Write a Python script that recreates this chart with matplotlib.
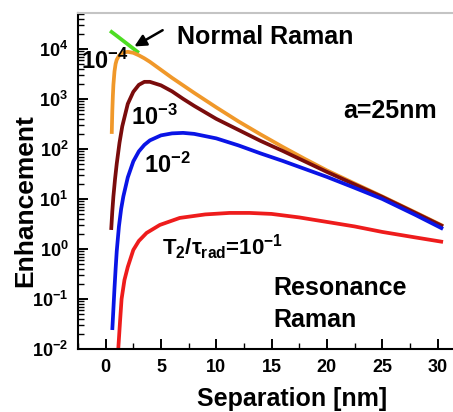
import numpy as np
import matplotlib
matplotlib.use("Agg")
import matplotlib.pyplot as plt
from matplotlib.ticker import MultipleLocator, LogLocator, NullFormatter

plt.rcParams['font.family'] = ['Liberation Sans', 'DejaVu Sans']
plt.rcParams['font.weight'] = 'bold'
plt.rcParams['mathtext.fontset'] = 'custom'
plt.rcParams['mathtext.rm'] = 'Liberation Sans:bold'
plt.rcParams['mathtext.it'] = 'Liberation Sans:bold'
plt.rcParams['mathtext.bf'] = 'Liberation Sans:bold'
plt.rcParams['mathtext.sf'] = 'Liberation Sans:bold'

# separation [nm] and log10(enhancement)
normal_d = [0.4, 1.0, 2.0, 3.0]
normal_log = [4.36, 4.26, 4.09, 3.92]

t4_d = [0.55, 0.6, 0.65, 0.7, 0.8, 0.9, 1.0, 1.2, 1.5, 2.0, 2.5, 3.0, 3.5, 4.0, 5.0, 6.0, 7.0, 8.0,
        10.0, 12.0, 14.0, 16.0, 18.0, 20.0, 22.3, 25.0, 28.0, 30.5]
t4_log = [2.30, 2.75, 3.05, 3.28, 3.55, 3.70, 3.78, 3.86, 3.92, 3.94, 3.92, 3.87, 3.81, 3.74, 3.58, 3.42, 3.27, 3.12,
          2.83, 2.55, 2.29, 2.04, 1.80, 1.57, 1.33, 1.05, 0.73, 0.46]

t3_d = [0.5, 0.6, 0.7, 0.85, 1.0, 1.25, 1.5, 2.0, 2.5, 3.0, 3.5, 4.0, 5.0, 6.0, 7.0, 8.0, 10.0,
        12.0, 14.0, 16.0, 18.0, 20.0, 22.3, 25.0, 28.0, 30.5]
t3_log = [0.38, 0.75, 1.05, 1.40, 1.70, 2.12, 2.45, 2.90, 3.14, 3.28, 3.34, 3.34, 3.27, 3.15, 3.00, 2.86, 2.60,
          2.38, 2.16, 1.96, 1.75, 1.54, 1.31, 1.04, 0.72, 0.45]

t2_d = [0.6, 0.7, 0.8, 0.9, 1.0, 1.2, 1.4, 1.6, 2.0, 2.5, 3.0, 3.5, 4.0, 5.0, 6.0, 7.0, 8.0, 10.0,
        12.0, 14.0, 16.0, 18.0, 20.0, 22.3, 25.0, 28.0, 30.5]
t2_log = [-1.62, -1.20, -0.78, -0.40, -0.05, 0.45, 0.80, 1.05, 1.43, 1.75, 1.95, 2.08, 2.17, 2.27, 2.31, 2.32, 2.30, 2.21,
          2.07, 1.91, 1.76, 1.60, 1.44, 1.24, 1.00, 0.68, 0.40]

t1_d = [1.05, 1.14, 1.3, 1.44, 1.7, 2.0, 2.5, 3.0, 3.7, 4.9, 6.7, 9.0, 11.2, 13.0, 15.0, 17.5, 20.0,
        22.5, 25.0, 28.0, 30.5]
t1_log = [-2.3, -2.0, -1.45, -1.0, -0.62, -0.36, -0.02, 0.16, 0.32, 0.48, 0.62, 0.69, 0.72, 0.72, 0.70, 0.63, 0.54,
          0.45, 0.34, 0.23, 0.14]

x_ticks = [0, 5, 10, 15, 20, 25, 30]

fig = plt.figure(figsize=(4.53, 4.12), dpi=100)
ax = fig.add_axes([78 / 453, 1 - 349 / 412, 1 - 78 / 453, (349 - 13) / 412])

lw = 2.7
ax.plot(normal_d, 10 ** np.array(normal_log), color='#4ddd22', lw=lw, solid_capstyle='butt')
ax.plot(t4_d, 10 ** np.array(t4_log), color='#f0982a', lw=lw, solid_capstyle='butt')
ax.plot(t3_d, 10 ** np.array(t3_log), color='#7a0c0c', lw=lw, solid_capstyle='butt')
ax.plot(t2_d, 10 ** np.array(t2_log), color='#0a14e6', lw=lw, solid_capstyle='butt')
ax.plot(t1_d, 10 ** np.array(t1_log), color='#ee1c1c', lw=lw, solid_capstyle='butt')

ax.set_yscale('log')
ax.set_xlim(-2.5, 31.4)
ax.set_ylim(1e-2, 5.2e4)
ax.set_xticks(x_ticks)
ax.xaxis.set_minor_locator(MultipleLocator(2.5))
ax.yaxis.set_minor_locator(LogLocator(base=10, subs=np.arange(2, 10)))
ax.yaxis.set_minor_formatter(NullFormatter())

ax.tick_params(which='major', direction='in', length=7, width=1.4, labelsize=13, pad=7)
ax.tick_params(which='minor', direction='in', length=4, width=1.0)
ax.tick_params(top=False, right=False)
for lab in ax.get_xticklabels() + ax.get_yticklabels():
    lab.set_fontweight('bold')

ax.spines['right'].set_visible(False)
ax.spines['top'].set_color('#c4c4c4')
ax.spines['top'].set_linewidth(1.5)
ax.spines['left'].set_linewidth(1.5)
ax.spines['bottom'].set_linewidth(1.5)

# arrow to the normal Raman line
ax.annotate('', xy=(2.38, 10 ** 4.02), xytext=(5.37, 10 ** 4.40),
            arrowprops=dict(arrowstyle='-|>,head_length=0.7,head_width=0.35', color='black', lw=1.8))

fig.text(177 / 453, 1 - 37 / 412, 'Normal Raman', fontsize=18, fontweight='bold', ha='left', va='center')
fig.text(343 / 453, 1 - 111 / 412, 'a=25nm', fontsize=18, fontweight='bold', ha='left', va='center')
fig.text(273 / 453, 1 - 288 / 412, 'Resonance', fontsize=18, fontweight='bold', ha='left', va='center')
fig.text(273 / 453, 1 - 320 / 412, 'Raman', fontsize=18, fontweight='bold', ha='left', va='center')

fig.text(81 / 453, 1 - 61 / 412, r'$10^{-4}$', fontsize=17, ha='left', va='center')
fig.text(131 / 453, 1 - 117 / 412, r'$10^{-3}$', fontsize=17, ha='left', va='center')
fig.text(144 / 453, 1 - 165 / 412, r'$10^{-2}$', fontsize=17, ha='left', va='center')
fig.text(162 / 453, 1 - 247 / 412, r'$T_2/\tau_{rad}$=$10^{-1}$', fontsize=16, ha='left', va='center')

fig.text(32 / 453, 1 - 201 / 412, 'Enhancement', fontsize=19, fontweight='bold', rotation=90,
         ha='center', va='baseline', rotation_mode='anchor')
fig.text(292 / 453, 6 / 412, 'Separation [nm]', fontsize=18, fontweight='bold', ha='center', va='baseline')

fig.savefig('out.png', dpi=100)
